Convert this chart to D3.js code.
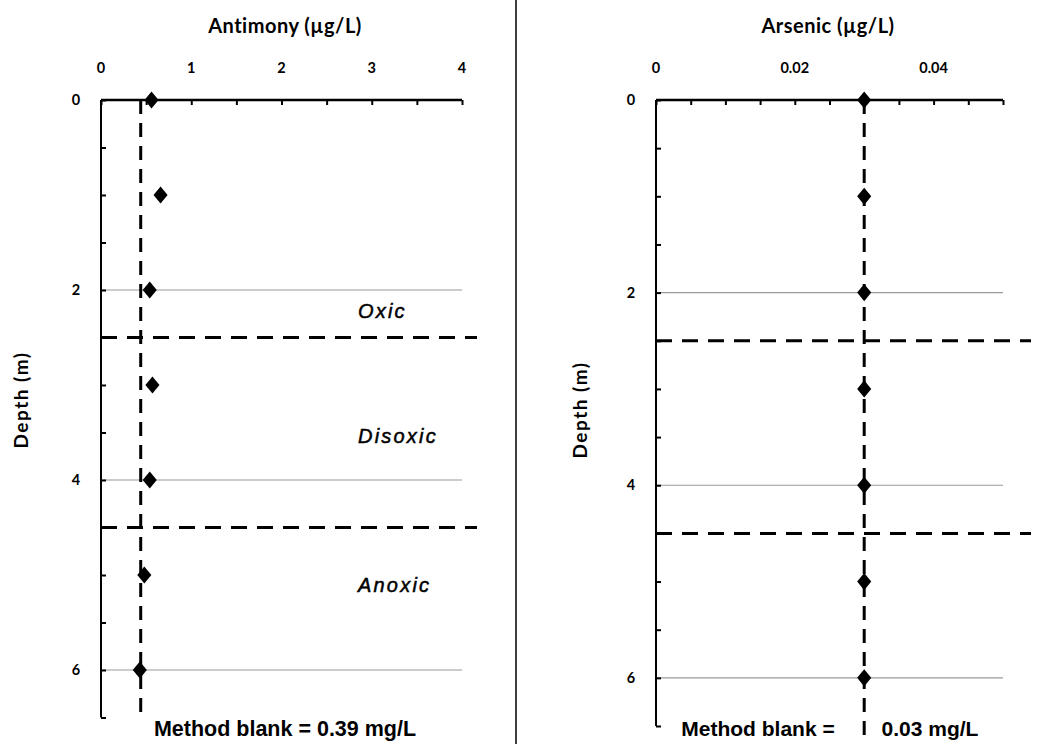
<!DOCTYPE html>
<html><head><meta charset="utf-8">
<script src="https://cdn.jsdelivr.net/npm/d3@7"></script>
<style>body{margin:0;background:#fff}svg{display:block}</style>
</head><body>
<svg id="c" width="1063" height="744"></svg>
<script>
// ---- data ----
const depths = [0, 1, 2, 3, 4, 5, 6];
const antimony = [0.56, 0.66, 0.54, 0.57, 0.54, 0.48, 0.43];
const arsenic = [0.03, 0.03, 0.03, 0.03, 0.03, 0.03, 0.03];
const antimonyTicks = [0, 1, 2, 3, 4];
const arsenicTicks = [0, 0.02, 0.04];
const depthTicks = [0, 2, 4, 6];
const gridDepths = [2, 4, 6];
const zoneBoundaries = [2.5, 4.5];
const zoneLabels = ["Oxic", "Disoxic", "Anoxic"];
const zoneLabelDepths = [2.29, 3.61, 5.18];
const antimonyBlankLine = 0.44;
const arsenicBlankLine = 0.03;

const svg = d3.select("#c");
const titleFont = "Lato, 'Open Sans', sans-serif";
const bodyFont = "'Liberation Sans', Arial, sans-serif";

function panel(cfg) {
  const g = svg.append("g");
  const x = d3.scaleLinear().domain(cfg.xDomain).range([cfg.left, cfg.right]);
  const y = d3.scaleLinear().domain([0, 6.5]).range([100, cfg.bottom]);

  // grid lines
  g.selectAll(".grid").data(gridDepths).join("line")
    .attr("x1", x(cfg.xDomain[0])).attr("x2", x(cfg.xDomain[1]))
    .attr("y1", d => y(d)).attr("y2", d => y(d))
    .attr("stroke", "#9a9a9a").attr("stroke-width", 1.2);

  // top axis
  const xa = d3.axisTop(x).tickValues(d3.range(cfg.xDomain[0], cfg.xDomain[1] + 1e-9, cfg.minor))
    .tickSize(-5).tickFormat("");
  const xg = g.append("g").attr("transform", `translate(0,${y(0)})`).call(xa);
  xg.select(".domain").attr("stroke-width", 2.5).attr("d", `M${x(cfg.xDomain[0])},0H${x(cfg.xDomain[1])}`);
  xg.selectAll(".tick line").attr("stroke-width", 2);
  g.selectAll(".xlab").data(cfg.xTicks).join("text")
    .attr("x", d => x(d)).attr("y", 73).attr("text-anchor", "middle")
    .attr("font-family", titleFont).attr("font-weight", 700).attr("font-size", 14.5)
    .text(d => d);

  // left axis
  const ya = d3.axisLeft(y).tickValues(d3.range(0, 6.51, 0.5)).tickSize(-5).tickFormat("");
  const yg = g.append("g").attr("transform", `translate(${x(cfg.xDomain[0])},0)`).call(ya);
  yg.select(".domain").attr("stroke-width", 2).attr("d", `M0,${y(0)}V${y(6.5)}`);
  yg.selectAll(".tick line").attr("stroke-width", 2);
  g.selectAll(".ylab").data(depthTicks).join("text")
    .attr("x", cfg.left - 25).attr("y", d => y(d) + 5).attr("text-anchor", "middle")
    .attr("font-family", titleFont).attr("font-weight", 700).attr("font-size", 14.5)
    .text(d => d);

  // zone boundary dashed lines
  g.selectAll(".zone").data(zoneBoundaries).join("line")
    .attr("x1", x(cfg.xDomain[0])).attr("x2", x(cfg.xDomain[1]) + cfg.extend)
    .attr("y1", d => y(d)).attr("y2", d => y(d))
    .attr("stroke", "#000").attr("stroke-width", 3).attr("stroke-dasharray", "16,10");

  // method blank vertical
  g.append("line")
    .attr("x1", x(cfg.blank)).attr("x2", x(cfg.blank))
    .attr("y1", y(0)).attr("y2", y(6.5) + cfg.blankExtra)
    .attr("stroke", "#000").attr("stroke-width", 3).attr("stroke-dasharray", "14,9");

  // points
  const sym = d3.symbol().type(d3.symbolDiamond).size(110);
  g.selectAll(".pt").data(depths).join("path")
    .attr("d", sym)
    .attr("transform", (d, i) => `translate(${x(cfg.values[i])},${y(d)}) scale(1.25,0.88)`)
    .attr("fill", "#000");

  // titles
  g.append("text").attr("x", cfg.titleX).attr("y", 33).attr("text-anchor", "middle")
    .attr("font-family", titleFont).attr("font-weight", 700).attr("font-size", 20)
    .attr("letter-spacing", 0.5)
    .text(cfg.title);
  g.append("text").attr("transform", `translate(${cfg.ylabX},${cfg.ylabY}) rotate(-90)`)
    .attr("text-anchor", "middle")
    .attr("font-family", titleFont).attr("font-weight", 700).attr("font-size", 19)
    .attr("letter-spacing", 1.5)
    .text("Depth (m)");
  return {g, x, y};
}

const L = panel({
  xDomain: [0, 4], minor: 0.5, left: 101, right: 462, bottom: 717.5,
  xTicks: antimonyTicks, values: antimony, blank: antimonyBlankLine, blankExtra: 0,
  extend: 15, title: "Antimony (µg/L)", titleX: 285, ylabX: 28, ylabY: 400
});
// zone labels (left panel only)
L.g.selectAll(".zl").data(zoneLabels).join("text")
  .attr("x", 358).attr("y", (d, i) => L.y(zoneLabelDepths[i]))
  .attr("text-anchor", "start").attr("font-family", bodyFont)
  .attr("font-style", "italic").attr("font-size", 20).attr("font-weight", 400)
  .attr("letter-spacing", 2.2)
  .attr("stroke", "#000").attr("stroke-width", 0.5)
  .text(d => d);
L.g.append("text").attr("x", 285).attr("y", 736).attr("text-anchor", "middle")
  .attr("font-family", bodyFont).attr("font-weight", 700).attr("font-size", 21.5)
  .text("Method blank = 0.39 mg/L");

const R = panel({
  xDomain: [0, 0.05], minor: 0.005, left: 656, right: 1003, bottom: 726,
  xTicks: arsenicTicks, values: arsenic, blank: arsenicBlankLine, blankExtra: 10,
  extend: 28, title: "Arsenic (µg/L)", titleX: 828, ylabX: 587, ylabY: 410
});
R.g.append("text").attr("x", 758).attr("y", 736).attr("text-anchor", "middle")
  .attr("font-family", bodyFont).attr("font-weight", 700).attr("font-size", 21)
  .text("Method blank =");
R.g.append("text").attr("x", 930).attr("y", 736).attr("text-anchor", "middle")
  .attr("font-family", bodyFont).attr("font-weight", 700).attr("font-size", 21)
  .text("0.03 mg/L");

// separator
svg.append("line").attr("x1", 516).attr("x2", 516).attr("y1", 0).attr("y2", 744)
  .attr("stroke", "#000").attr("stroke-width", 1.5);
</script>
</body></html>
